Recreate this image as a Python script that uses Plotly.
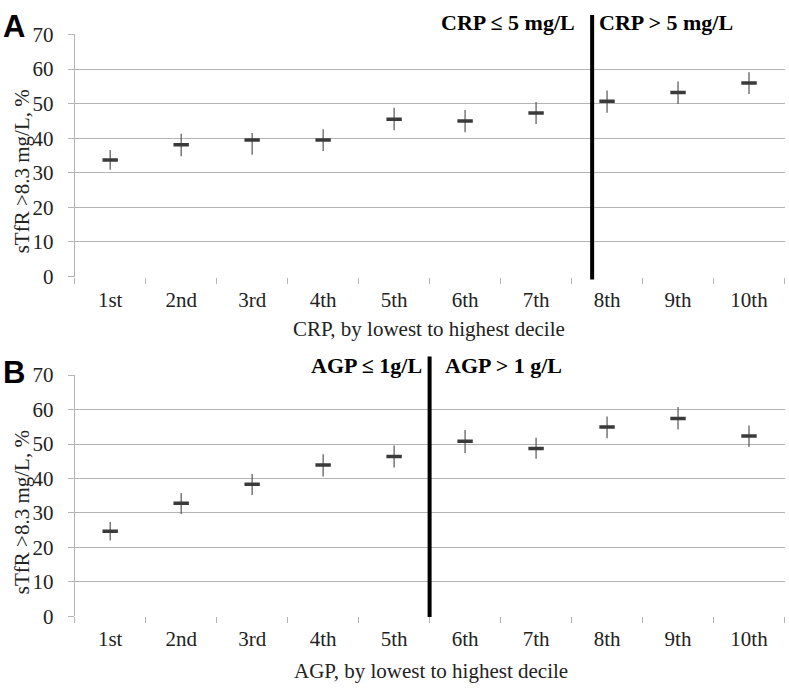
import plotly.graph_objects as go

deciles = ["1st", "2nd", "3rd", "4th", "5th", "6th", "7th", "8th", "9th", "10th"]

crp_mean = [33.7, 38.1, 39.5, 39.5, 45.5, 45.0, 47.3, 50.7, 53.2, 56.0]
crp_upper = [36.6, 41.3, 41.5, 42.6, 48.8, 48.2, 50.5, 53.8, 56.4, 59.1]
crp_lower = [30.9, 34.8, 35.2, 36.3, 42.3, 41.7, 44.1, 47.4, 49.9, 52.8]

agp_mean = [24.7, 32.8, 38.3, 43.9, 46.4, 50.8, 48.7, 54.9, 57.4, 52.3]
agp_upper = [27.4, 35.8, 41.3, 47.0, 49.6, 54.1, 51.8, 58.0, 60.7, 55.4]
agp_lower = [22.0, 29.7, 35.2, 40.6, 43.2, 47.4, 45.7, 51.7, 54.2, 49.1]

y_ticks = [0, 10, 20, 30, 40, 50, 60, 70]

crp_divider = 6.79   # category-index position of CRP cut-off line
agp_divider = 4.5    # category-index position of AGP cut-off line

W, H = 789, 697
SERIF = "Liberation Serif"
GRID = "#b4b4b4"


def px_x(p):
    return p / W


def px_y(p):
    return 1 - p / H


fig = go.Figure()

for mean, up, lo, xa, ya in [
    (crp_mean, crp_upper, crp_lower, "x", "y"),
    (agp_mean, agp_upper, agp_lower, "x2", "y2"),
]:
    fig.add_trace(go.Scatter(
        x=deciles, y=mean, mode="markers", xaxis=xa, yaxis=ya,
        marker=dict(symbol="line-ew-open", size=11, color="#3a3a3a",
                    line=dict(width=3.5, color="#3a3a3a")),
        error_y=dict(type="data", symmetric=False,
                     array=[u - m for u, m in zip(up, mean)],
                     arrayminus=[m - l for m, l in zip(mean, lo)],
                     color="#555555", thickness=1.2, width=0),
        showlegend=False, hoverinfo="skip",
    ))

xdom = [px_x(74.7), px_x(784.5)]
common_x = dict(
    type="category", domain=xdom, showgrid=False, zeroline=False,
    showline=False, ticks="outside", tickson="boundaries", ticklen=6,
    tickcolor=GRID, tickwidth=1, ticklabelstandoff=8,
    tickfont=dict(family=SERIF, size=21, color="#222"),
    range=[-0.5, 9.5],
)
common_y = dict(
    range=[0, 70], tickvals=y_ticks, showgrid=True, gridcolor=GRID,
    gridwidth=1, zeroline=False, showline=True, linecolor=GRID, linewidth=1,
    ticks="outside", ticklen=6, tickcolor=GRID, ticklabelstandoff=10,
    tickfont=dict(family=SERIF, size=21, color="#222"),
)

fig.update_layout(
    width=W, height=H, margin=dict(l=0, r=0, t=0, b=0),
    paper_bgcolor="white", plot_bgcolor="white",
    xaxis=dict(common_x, anchor="y"),
    yaxis=dict(common_y, domain=[px_y(274), px_y(23.3)], anchor="x"),
    xaxis2=dict(common_x, anchor="y2"),
    yaxis2=dict(common_y, domain=[px_y(626), px_y(376)], anchor="x2"),
)

shapes = [
    dict(type="line", xref="x", yref="paper", x0=crp_divider, x1=crp_divider,
         y0=px_y(277), y1=px_y(3), line=dict(color="black", width=4)),
    dict(type="line", xref="x2", yref="paper", x0=agp_divider, x1=agp_divider,
         y0=px_y(626.7), y1=px_y(356.7), line=dict(color="black", width=4)),
]
fig.update_layout(shapes=shapes)

ann = []
# Panel letters
lfont = dict(family="Liberation Sans", size=31, color="black")
ann.append(dict(text="<b>A</b>", x=px_x(1), y=px_y(15), xref="paper", yref="paper",
                xanchor="left", yanchor="middle", showarrow=False, font=lfont))
ann.append(dict(text="<b>B</b>", x=px_x(1), y=px_y(373), xref="paper", yref="paper",
                xanchor="left", yanchor="middle", showarrow=False, font=lfont))
# Header labels
hfont = dict(family=SERIF, size=22, color="black")
ann += [
    dict(text="<b>CRP ≤ 5 mg/L</b>", x=px_x(577), y=px_y(11), xref="paper", yref="paper",
         xanchor="right", yanchor="middle", showarrow=False, font=hfont),
    dict(text="<b>CRP > 5 mg/L</b>", x=px_x(597), y=px_y(11), xref="paper", yref="paper",
         xanchor="left", yanchor="middle", showarrow=False, font=hfont),
    dict(text="<b>AGP ≤ 1g/L</b>", x=px_x(424), y=px_y(366), xref="paper", yref="paper",
         xanchor="right", yanchor="middle", showarrow=False, font=hfont),
    dict(text="<b>AGP > 1 g/L</b>", x=px_x(443), y=px_y(366), xref="paper", yref="paper",
         xanchor="left", yanchor="middle", showarrow=False, font=hfont),
]
# Axis titles
tfont = dict(family=SERIF, size=21, color="#222")
ann += [
    dict(text="CRP, by lowest to highest decile", x=px_x(429), y=px_y(328),
         xref="paper", yref="paper", xanchor="center", yanchor="middle",
         showarrow=False, font=tfont),
    dict(text="AGP, by lowest to highest decile", x=px_x(431), y=px_y(683),
         xref="paper", yref="paper", xanchor="center", yanchor="middle",
         showarrow=False, font=tfont),
    dict(text="sTfR >8.3 mg/L, %", x=px_x(22), y=px_y(165), textangle=-90,
         xref="paper", yref="paper", xanchor="center", yanchor="middle",
         showarrow=False, font=tfont),
    dict(text="sTfR >8.3 mg/L, %", x=px_x(22), y=px_y(518), textangle=-90,
         xref="paper", yref="paper", xanchor="center", yanchor="middle",
         showarrow=False, font=tfont),
]
fig.update_layout(annotations=ann)

fig.write_html("out.html", config={"displayModeBar": False, "staticPlot": True},
               post_script="document.body.style.margin='0';")
